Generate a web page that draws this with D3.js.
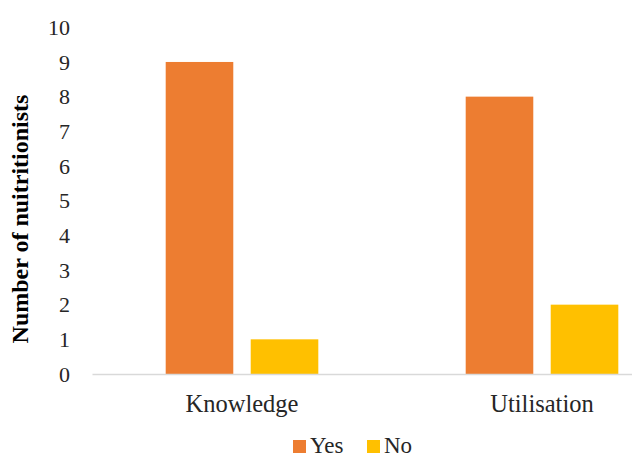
<!DOCTYPE html>
<html>
<head>
<meta charset="utf-8">
<script src="https://cdn.jsdelivr.net/npm/d3@7"></script>
<style>
  html, body { margin: 0; padding: 0; background: #fff; }
  svg { display: block; }
  svg text { font-family: 'Liberation Serif', 'Times New Roman', serif; }
</style>
</head>
<body>
<svg id="chart" width="632" height="457"></svg>
<script>
const categories = ["Knowledge", "Utilisation"];
const seriesNames = ["Yes", "No"];
const yesValues = [9, 8];
const noValues = [1, 2];
const yTicks = [0, 1, 2, 3, 4, 5, 6, 7, 8, 9, 10];
const colors = ["#ED7D31", "#FFC000"];

const seriesValues = [yesValues, noValues];
const svg = d3.select("#chart");
const font = "'Liberation Serif', 'Times New Roman', serif";

const plotLeft = 92, plotRight = 692, plotTop = 27.3, plotBottom = 374;

const x0 = d3.scaleBand().domain(categories).range([plotLeft, plotRight])
  .paddingInner(0.4913).paddingOuter(0.4913 / 2);
const x1 = d3.scaleBand().domain(seriesNames).range([0, x0.bandwidth()])
  .paddingInner(0.205).paddingOuter(0);
const y = d3.scaleLinear().domain([0, 10]).range([plotBottom, plotTop]);
const color = d3.scaleOrdinal().domain(seriesNames).range(colors);

// bars
const groups = svg.append("g").selectAll("g")
  .data(categories).join("g")
  .attr("transform", d => `translate(${x0(d)},0)`);
groups.selectAll("rect")
  .data((d, i) => seriesNames.map((s, j) => ({ s, v: seriesValues[j][i] })))
  .join("rect")
  .attr("x", d => x1(d.s))
  .attr("width", x1.bandwidth())
  .attr("y", d => y(d.v))
  .attr("height", d => y(0) - y(d.v))
  .attr("fill", d => color(d.s));

// x axis
const xAxis = svg.append("g").attr("transform", `translate(0,${plotBottom})`)
  .call(d3.axisBottom(x0).tickSize(0).tickPadding(20.5));
xAxis.attr("font-family", null);
xAxis.select(".domain").attr("stroke", "#d9d9d9").attr("stroke-width", 1.5);
xAxis.selectAll("text").style("font-family", font).style("font-size", "24.5px").attr("fill", "#262626");

// y axis
const yAxis = svg.append("g").attr("transform", `translate(${plotLeft},0)`)
  .call(d3.axisLeft(y).tickValues(yTicks).tickSize(0).tickPadding(22).tickFormat(d3.format("d")));
yAxis.attr("font-family", null);
yAxis.select(".domain").remove();
yAxis.selectAll("text").style("font-family", font).style("font-size", "22px").attr("fill", "#262626");

// y title
svg.append("text")
  .attr("transform", `translate(28,219) rotate(-90)`)
  .attr("text-anchor", "middle")
  .style("font-family", font).style("font-size", "24px").attr("font-weight", "bold")
  .attr("fill", "#000")
  .text("Number of nuitritionists");

// legend
const legendItems = [{ name: "Yes", x: 293 }, { name: "No", x: 367 }];
const lg = svg.append("g").selectAll("g").data(legendItems).join("g")
  .attr("transform", d => `translate(${d.x},440)`);
lg.append("rect").attr("width", 13).attr("height", 13).attr("fill", d => color(d.name));
lg.append("text").attr("x", 17).attr("y", 13)
  .style("font-family", font).style("font-size", "23px").attr("fill", "#262626")
  .text(d => d.name);
</script>
</body>
</html>
